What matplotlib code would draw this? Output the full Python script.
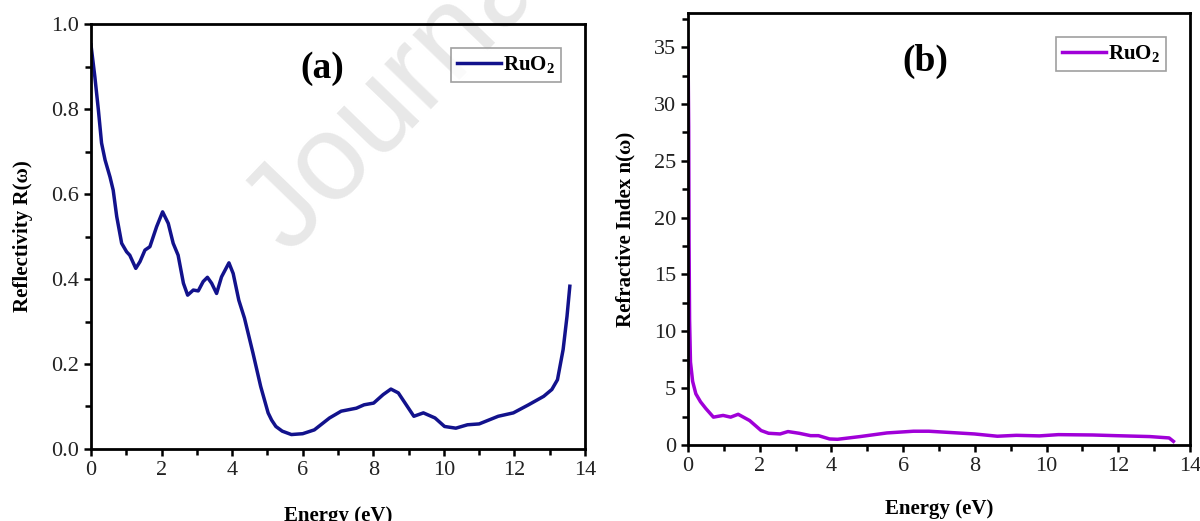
import matplotlib
matplotlib.use('Agg')
import matplotlib.pyplot as plt
from matplotlib.ticker import MultipleLocator

# reflectivity R(w)
energy_r = [0.0, 0.11, 0.21, 0.30, 0.40, 0.54, 0.63, 0.73, 0.87, 1.01, 1.10, 1.27,
            1.39, 1.53, 1.67, 1.86, 2.03, 2.19, 2.33, 2.47, 2.62, 2.74, 2.90, 3.04,
            3.18, 3.30, 3.42, 3.56, 3.70, 3.91, 4.03, 4.19, 4.35, 4.59, 4.81, 5.02,
            5.12, 5.24, 5.42, 5.68, 6.00, 6.33, 6.76, 7.09, 7.52, 7.74, 8.01, 8.28,
            8.50, 8.71, 9.15, 9.42, 9.75, 10.02, 10.34, 10.67, 11.00, 11.54, 11.97, 12.40,
            12.83, 13.06, 13.22, 13.38, 13.49, 13.57]
reflect = [0.951, 0.876, 0.798, 0.720, 0.680, 0.640, 0.609, 0.547, 0.484, 0.464, 0.456, 0.425,
           0.441, 0.468, 0.476, 0.523, 0.558, 0.531, 0.484, 0.456, 0.390, 0.362, 0.374, 0.372,
           0.394, 0.404, 0.390, 0.366, 0.405, 0.438, 0.413, 0.350, 0.308, 0.226, 0.147, 0.085,
           0.068, 0.053, 0.042, 0.034, 0.036, 0.045, 0.073, 0.089, 0.096, 0.104, 0.108, 0.128,
           0.141, 0.132, 0.077, 0.085, 0.073, 0.053, 0.049, 0.057, 0.059, 0.077, 0.085, 0.104,
           0.124, 0.140, 0.163, 0.234, 0.312, 0.383]

# refractive index n(w)
energy_n = [0.0, 0.02, 0.03, 0.045, 0.07, 0.13, 0.22, 0.35, 0.50, 0.71, 0.98, 1.19,
            1.40, 1.72, 2.04, 2.25, 2.57, 2.79, 3.10, 3.42, 3.64, 3.95, 4.17, 4.80,
            5.55, 6.29, 6.72, 7.36, 7.99, 8.63, 9.16, 9.80, 10.33, 11.29, 11.93, 12.88,
            13.42, 13.54]
refr = [35.4, 28.0, 18.0, 11.0, 7.3, 5.6, 4.5, 3.8, 3.2, 2.45, 2.6, 2.45,
        2.7, 2.15, 1.27, 1.03, 0.97, 1.18, 1.03, 0.82, 0.82, 0.53, 0.50, 0.74,
        1.06, 1.21, 1.21, 1.09, 0.97, 0.77, 0.85, 0.80, 0.91, 0.88, 0.82, 0.74,
        0.62, 0.32]

plt.rcParams['font.family'] = ['Liberation Serif', 'DejaVu Serif']
plt.rcParams['mathtext.fontset'] = 'custom'
plt.rcParams['mathtext.rm'] = 'Liberation Serif'
plt.rcParams['mathtext.bf'] = 'Liberation Serif:bold'

fig = plt.figure(figsize=(12, 5.21), dpi=100)

# "Journal" watermark behind the plots
fig.text(0.2407, 0.5102, 'Journal', fontsize=88, color='#e8e8e8', rotation=46,
         rotation_mode='anchor', ha='left', va='baseline',
         family='Liberation Sans', zorder=-1)

ax1 = fig.add_axes([0.0758, 0.1382, 0.4117, 0.8157])
ax2 = fig.add_axes([0.5733, 0.1459, 0.4183, 0.8292])


def style(ax, ylabel, ymax, ymajor, yminor, yfmt, xpad):
    ax.patch.set_alpha(0)
    ax.set_xlim(0, 14)
    ax.set_ylim(0, ymax)
    ax.xaxis.set_major_locator(MultipleLocator(2))
    ax.xaxis.set_minor_locator(MultipleLocator(1))
    ax.yaxis.set_major_locator(MultipleLocator(ymajor))
    ax.yaxis.set_minor_locator(MultipleLocator(yminor))
    ax.yaxis.set_major_formatter(yfmt)
    for s in ax.spines.values():
        s.set_linewidth(2)
    ax.tick_params(which='both', direction='out', width=1.8, labelsize=16,
                   labelcolor='#222222', top=False, right=False)
    ax.tick_params(which='major', length=5)
    ax.tick_params(which='minor', length=4)
    ax.set_xlabel('Energy (eV)', fontsize=15, fontweight='bold', labelpad=xpad)
    ax.set_ylabel(ylabel, fontsize=15, fontweight='bold', labelpad=13)


ax1.plot(energy_r, reflect, color='#12128c', lw=2.5, label=r'RuO$_\mathbf{2}$',
         solid_joinstyle='round')
style(ax1, 'Reflectivity R(ω)', 1.0, 0.2, 0.1, '{x:.1f}', 19)
ax1.text(0.468, 0.896, '(a)', transform=ax1.transAxes, fontsize=27,
         fontweight='bold', ha='center', va='center')

ax2.plot(energy_n, refr, color='#a000d8', lw=2.5, label=r'RuO$_\mathbf{2}$',
         solid_joinstyle='round')
style(ax2, 'Refractive Index n(ω)', 38, 5, 2.5, '{x:.0f}', 17)
ax2.text(0.472, 0.887, '(b)', transform=ax2.transAxes, fontsize=27,
         fontweight='bold', ha='center', va='center')

for ax in (ax1, ax2):
    leg = ax.legend(loc='upper right', frameon=True, fancybox=False,
                    handlelength=2.1, borderpad=0.3, borderaxespad=1.15,
                    handletextpad=0.1, prop={'weight': 'bold', 'size': 15})
    leg.get_frame().set_edgecolor('#888888')
    leg.get_frame().set_linewidth(1.2)

fig.savefig('out.png', dpi=100)
